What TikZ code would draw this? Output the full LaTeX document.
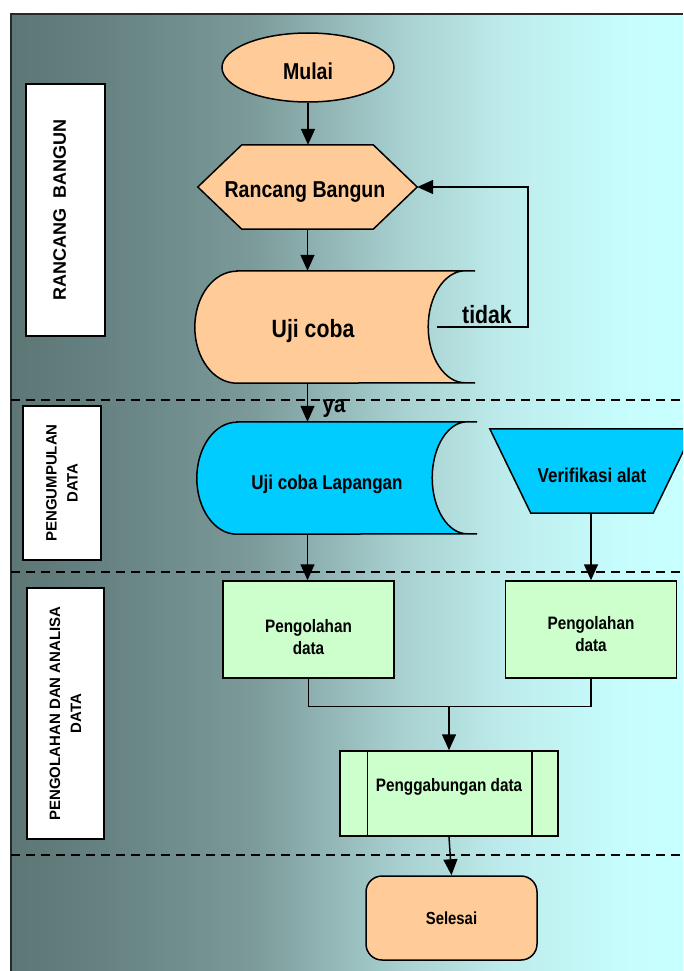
\documentclass[tikz,border=0pt]{standalone}
\usepackage{fontspec}
\setmainfont{Liberation Sans}
\newfontfamily\sempit{Liberation Sans}[FakeStretch=0.85]
\newfontfamily\lebar{Liberation Sans}
\usetikzlibrary{shapes.geometric,arrows.meta}

\definecolor{persik}{RGB}{255,204,153}
\definecolor{biru}{RGB}{0,204,255}
\definecolor{hijau}{RGB}{204,255,204}
\definecolor{bingkai}{RGB}{40,40,40}
\definecolor{latarA}{RGB}{93,118,118}
\definecolor{latarB}{RGB}{102,130,130}
\definecolor{latarC}{RGB}{124,154,154}
\definecolor{latarD}{RGB}{168,208,208}
\definecolor{latarE}{RGB}{190,236,236}
\definecolor{latarF}{RGB}{198,252,252}
\definecolor{latarG}{RGB}{200,255,255}
\pgfdeclarehorizontalshading{latar}{100bp}{color(0bp)=(latarA); color(25bp)=(latarA);
  color(32bp)=(latarB); color(43bp)=(latarC); color(54bp)=(latarD);
  color(62bp)=(latarE); color(70bp)=(latarF); color(75bp)=(latarG); color(100bp)=(latarG)}

\begin{document}
\begin{tikzpicture}[
		x=1pt, y=-1pt,
		garis/.style={line width=1.5pt},
		panah/.style={garis, -{Triangle[length=16pt,width=14pt]}},
		batas/.style={line width=1.5pt, dash pattern=on 9pt off 6pt},
		jalur/.style={
			draw,
			fill=white,
			line width=1.5pt,
			rotate=90,
			align=center,
			inner sep=0pt,
			font=\lebar\bfseries\fontsize{15}{21}\selectfont
		},
		kosong/.style={rectangle, draw=none, inner sep=0pt},
		huruf/.style={font=\sempit\bfseries\fontsize{#1}{22}\selectfont, align=center, inner sep=0pt},
		proses/.style={
			draw,
			rectangle,
			fill=hijau,
			line width=1.5pt,
			minimum width=171pt,
			minimum height=97pt,
			huruf=18
		}
		]
		
		\useasboundingbox (0,0) rectangle (683,971);
		\clip (0,0) rectangle (683,971);
		
		%Latar
		\shade[shading=latar] (11,14) rectangle (683,971);
		\draw[line width=2pt, bingkai] (11,971) -- (11,14) -- (683,14);
		\foreach \y in {400,572,855}
			\draw[batas] (11,\y) -- (683,\y);
		
		%Jalur
		\node[jalur, minimum width=252pt, minimum height=79pt, font=\lebar\bfseries\fontsize{18}{21}\selectfont, text depth=12pt] (jalur1) at (65.5,210) {RANCANG\ \ BANGUN};
		\node[jalur, minimum width=154pt, minimum height=78pt] (jalur2) at (62,483) {PENGUMPULAN\\DATA};
		\node[jalur, minimum width=251pt, minimum height=77pt] (jalur3) at (65.5,713.5) {PENGOLAHAN DAN ANALISA\\DATA};
		
		%Bentuk
		\node[ellipse, draw, fill=persik, garis, minimum width=172pt, minimum height=69pt, huruf=23, text height=24pt] (mulai) at (308,67.5) {Mulai};
		
		\node[kosong, minimum width=219pt, minimum height=84pt] (rancang) at (307.5,187) {};
		\draw[garis, fill=persik] (rancang.west) -- ([xshift=44pt]rancang.north west) -- ([xshift=-44pt]rancang.north east)
			-- (rancang.east) -- ([xshift=-44pt]rancang.south east) -- ([xshift=44pt]rancang.south west) -- cycle;
		\node[huruf=23] (rancangteks) at (305,192) {Rancang Bangun};
		
		\node[kosong, minimum width=280pt, minimum height=112pt] (ujicoba) at (335,327) {};
		\draw[garis, fill=persik] ([xshift=42pt]ujicoba.north west) -- (ujicoba.north east) -- ++(-10pt,0)
			arc[start angle=90, end angle=270, x radius=37pt, y radius=56pt] -- ++(10pt,0)
			-- ([xshift=42pt]ujicoba.south west) arc[start angle=270, end angle=90, x radius=42pt, y radius=56pt] -- cycle;
		\node[huruf=25] (ujicobateks) at (313,331) {Uji coba};
		
		\node[kosong, minimum width=280pt, minimum height=112pt] (lapangan) at (337,478) {};
		\draw[garis, fill=biru] ([xshift=40pt]lapangan.north west) -- (lapangan.north east) -- ++(-10pt,0)
			arc[start angle=90, end angle=270, x radius=35pt, y radius=56pt] -- ++(10pt,0)
			-- ([xshift=40pt]lapangan.south west) arc[start angle=270, end angle=90, x radius=40pt, y radius=56pt] -- cycle;
		\node[huruf=20] (lapanganteks) at (327,484) {Uji coba Lapangan};
		
		\node[kosong, minimum width=204pt, minimum height=84pt] (verif) at (592,471) {};
		\draw[garis, fill=biru] (verif.north west) -- (verif.north east) -- ([xshift=-41pt]verif.south east)
			-- ([xshift=41pt]verif.south west) -- cycle;
		\node[huruf=20] (verifteks) at (592,475) {Verifikasi alat};
		
		\node[proses] (kiri) at (308.5,629.5) {\rule{0pt}{29pt}Pengolahan\\data};
		\node[proses] (kanan) at (591,629.5) {\rule{0pt}{22pt}Pengolahan\\data};
		
		\node[proses, minimum width=218pt, minimum height=85pt, text depth=17pt] (gabung) at (449,793.5) {Penggabungan data};
		\draw[garis] ([xshift=28pt]gabung.north west) -- ([xshift=28pt]gabung.south west);
		\draw[garis] ([xshift=-27pt]gabung.north east) -- ([xshift=-27pt]gabung.south east);
		
		\node[rectangle, rounded corners=16pt, draw, fill=persik, garis, minimum width=171pt, minimum height=84pt, huruf=17.5] (selesai) at (451.5,918) {Selesai};
		
		%Garis
		\draw[panah] (mulai.south) -- (mulai.south |- rancang.north);
		\draw[panah] (rancang.south) -- (rancang.south |- ujicoba.north);
		
		\coordinate (tidakawal) at ([xshift=-38pt]ujicoba.east);
		\draw[panah] (tidakawal) -- ++(91pt,0) |- (rancang.east);
		\node[huruf=25] (tidak) at (487,315) {tidak};
		
		\draw[panah] (rancang.south |- ujicoba.south) -- (rancang.south |- lapangan.north);
		\node[huruf=24] (ya) at (334,409) {ya};
		
		\draw[panah] (rancang.south |- lapangan.south) -- (rancang.south |- kiri.north);
		\draw[panah] (kanan.north |- verif.south) -- (kanan.north);
		
		\path (gabung.north) ++(0,-44) coordinate (gabungan);
		\draw[garis] (kiri.south) |- (gabungan) -| (kanan.south);
		\draw[panah] (gabungan) -- (gabung.north);
		\draw[panah] (gabung.south) -- (selesai.north);
		
	\end{tikzpicture}
\end{document}
